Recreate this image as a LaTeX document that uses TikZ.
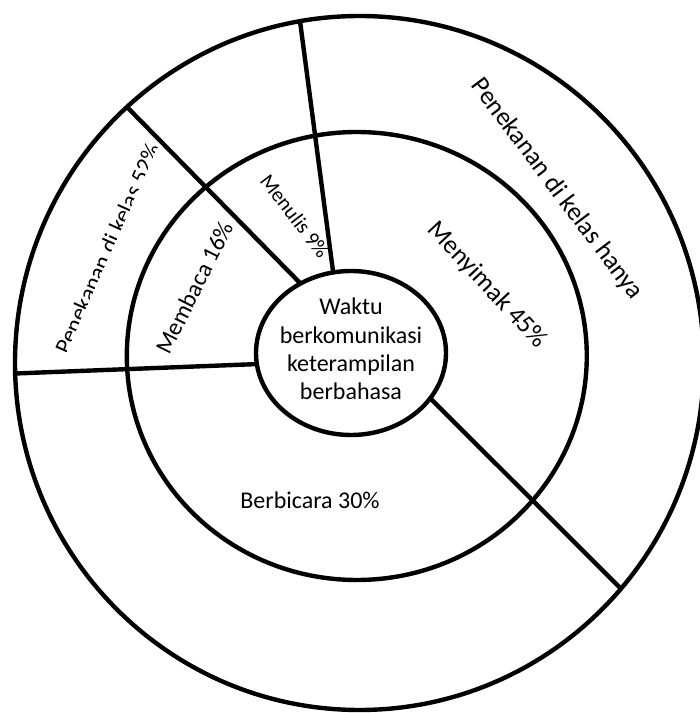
\documentclass[tikz,border=0pt]{standalone}
\usepackage{fontspec}
\setmainfont{Carlito}
\usetikzlibrary{shapes.geometric}
\begin{document}
\begin{tikzpicture}[x=1pt,y=1pt,
  ring/.style={line width=4.4pt},
  divider/.style={line width=4.4pt},
  lbl/.style={inner sep=0pt, text=black}]
\useasboundingbox (0,0) rectangle (700,713);
\fill[white] (0,0) rectangle (700,713);
% divider end points
\coordinate (d1i) at (333.5,438); \coordinate (d1o) at (300,692);
\coordinate (d2i) at (302,428);   \coordinate (d2o) at (127,606);
\coordinate (d3i) at (259,349);   \coordinate (d3o) at (15,339.5);
\coordinate (d4i) at (429,316);   \coordinate (d4o) at (621,124.3);
\draw[divider] (d1i) -- (d1o);
\draw[divider] (d2i) -- (d2o);
\draw[divider] (d3i) -- (d3o);
\draw[divider] (d4i) -- (d4o);
% rings
\draw[ring] (359.4,350) ellipse [x radius=344.4, y radius=347];
\draw[ring] (356.8,357) ellipse [x radius=230, y radius=224];
\node[ring, draw, ellipse, fill=white, minimum width=190pt, minimum height=164pt, inner sep=0pt] (hub) at (351,360) {};
\node[lbl, align=center, font=\fontsize{24pt}{28.3pt}\selectfont] (hubtext) at (351,364)
  {Waktu\\berkomunikasi\\keterampilan\\berbahasa};
% inner ring labels
\node[lbl, font=\fontsize{24pt}{28pt}\selectfont] (bicara) at (310,213) {Berbicara 30\%};
\node[lbl, font=\fontsize{26pt}{30pt}\selectfont, rotate=-47] (simak) at (487,428) {Menyimak 45\%};
\node[lbl, font=\fontsize{21pt}{25pt}\selectfont, rotate=-52.4] (tulis) at (295,497) {Menulis 9\%};
\node[lbl, font=\fontsize{24pt}{28pt}\selectfont, rotate=63.4] (baca) at (194.7,425.5) {Membaca 16\%};
% outer ring labels
\node[lbl, font=\fontsize{26pt}{30pt}\selectfont, rotate=-53] (hanya) at (556.7,523.8) {Penekanan di kelas hanya};
\begin{scope}[shift={(108.3,463.8)}, rotate=66]
  \clip (-140,-3.0) rectangle (140,40);
  \node[lbl, transform shape, anchor=base, font=\fontsize{23.5pt}{28pt}\selectfont] (kelas) at (0,-7) {Penekanan di kelas 52\%};
\end{scope}
\end{tikzpicture}
\end{document}
